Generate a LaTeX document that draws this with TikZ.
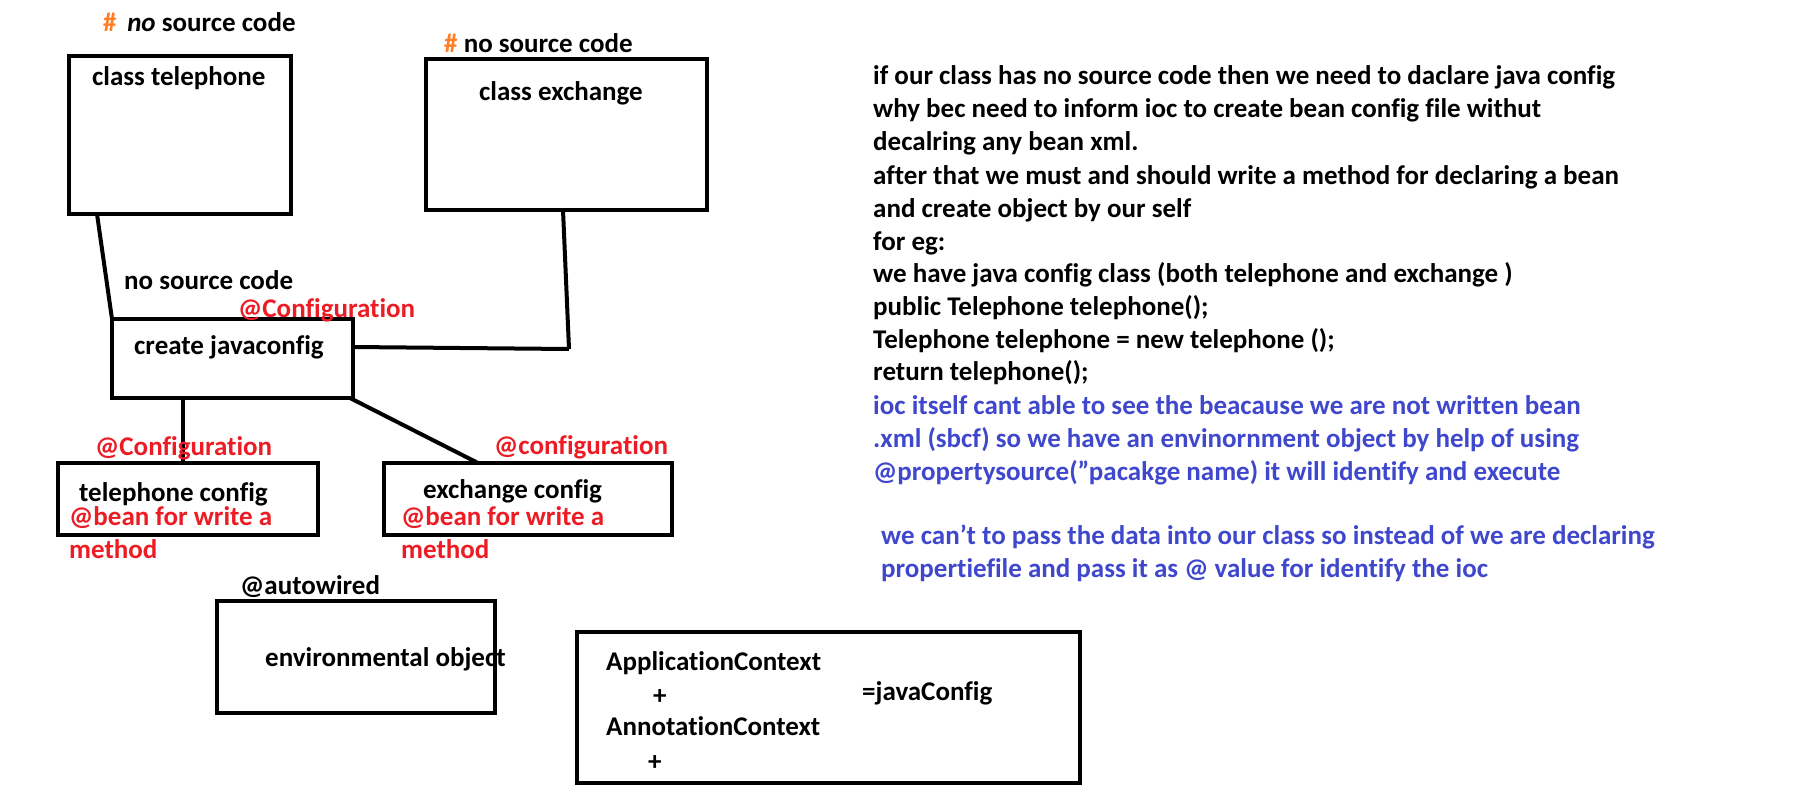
\documentclass[tikz,border=0pt]{standalone}
\usepackage{fontspec}
\defaultfontfeatures{}
\setmainfont{Carlito}[Ligatures=NoCommon]
\definecolor{pred}{RGB}{237,28,36}
\definecolor{porange}{RGB}{255,127,39}
\definecolor{pblue}{RGB}{63,72,204}
\begin{document}
\begin{tikzpicture}[x=1pt,y=-1pt,
  lbl/.style={anchor=west,inner sep=0pt,text height=19pt,text depth=5pt,font=\bfseries\fontsize{27}{30}\selectfont},
  rl/.style={lbl,text=pred},
  bl/.style={lbl,text=pblue},
  boxs/.style={draw=black,line width=4pt},
  conn/.style={draw=black,line width=4pt}]
\useasboundingbox[fill=white] (0,0) rectangle (1811,806);
% boxes
\draw[boxs] (69,56) rectangle (291,214);
\node[inner sep=0,minimum width=222pt,minimum height=158pt] (tel) at (180,135) {};
\draw[boxs] (426,59) rectangle (707,210);
\node[inner sep=0,minimum width=281pt,minimum height=151pt] (exc) at (566.5,134.5) {};
\draw[boxs] (112,319) rectangle (353,398);
\node[inner sep=0,minimum width=241pt,minimum height=79pt] (jc) at (232.5,358.5) {};
\draw[boxs] (58,463) rectangle (318,535);
\node[inner sep=0,minimum width=260pt,minimum height=72pt] (tc) at (188,499) {};
\draw[boxs] (384,463) rectangle (672,535);
\node[inner sep=0,minimum width=288pt,minimum height=72pt] (ec) at (528,499) {};
\draw[boxs] (217,601) rectangle (495,713);
\node[inner sep=0,minimum width=278pt,minimum height=112pt] (env) at (356,657) {};
\draw[boxs] (577,632) rectangle (1080,783);
\node[inner sep=0,minimum width=503pt,minimum height=151pt] (ac) at (828.5,707.5) {};
% connectors
\coordinate (jn) at (569,349);
\draw[conn] (97,214) -- (112,319);
\draw[conn] (563,210) -- (jn);
\draw[conn] (353,347) -- (jn);
\draw[conn] (183,398) -- (183,463);
\draw[conn] (350,398) -- (478,463);
% labels left
\node[lbl] (h1) at (103,24) {\textcolor{porange}{\#}\, \textit{no} source code};
\node[lbl] (h2) at (444,45) {\textcolor{porange}{\#} no source code};
\node[lbl] (ct) at (92,78) {class telephone};
\node[lbl] (ce) at (479,93) {class exchange};
\node[lbl] (nsc) at (124,282) {no source code};
\node[rl] (cf1) at (238,310) {@Configuration};
\node[lbl] (cj) at (134,347) {create javaconfig};
\node[rl] (cf2) at (95,448) {@Configuration};
\node[lbl] (tcl) at (79,494) {telephone config};
\node[rl] (b1) at (69,518) {@bean for write a};
\node[rl] (m1) at (69,551) {method};
\node[rl] (cf3) at (494,447) {@configuration};
\node[lbl] (ecl) at (423,491) {exchange config};
\node[rl] (b2) at (401,518) {@bean for write a};
\node[rl] (m2) at (401,551) {method};
\node[lbl] (aw) at (240,587) {@autowired};
\node[lbl] (eo) at (265,659) {environmental object};
\node[lbl] (a1) at (606,663) {ApplicationContext};
\node[lbl] (p1) at (653,697) {+};
\node[lbl] (a2) at (606,728) {AnnotationContext};
\node[lbl] (p2) at (648,763) {+};
\node[lbl] (jcf) at (862,693) {=javaConfig};
% right text
\node[lbl] (t1) at (873,77) {if our class has no source code then we need to daclare java config};
\node[lbl] (t2) at (873,110) {why bec need to inform ioc to create bean config file withut};
\node[lbl] (t3) at (873,143) {decalring any bean xml.};
\node[lbl] (t4) at (873,177) {after that we must and should write a method for declaring a bean};
\node[lbl] (t5) at (873,210) {and create object by our self};
\node[lbl] (t6) at (873,243) {for eg:};
\node[lbl] (t7) at (873,275) {we have java config class (both telephone and exchange )};
\node[lbl] (t8) at (873,308) {public Telephone telephone();};
\node[lbl] (t9) at (873,341) {Telephone telephone = new telephone ();};
\node[lbl] (t10) at (873,373) {return telephone();};
\node[bl] (t11) at (873,407) {ioc itself cant able to see the beacause we are not written bean};
\node[bl] (t12) at (873,440) {.xml (sbcf) so we have an envinornment object by help of using};
\node[bl] (t13) at (873,473) {@propertysource(\char"22 pacakge name) it will identify and execute};
\node[bl] (t14) at (881,537) {we can\char"27 t to pass the data into our class so instead of we are declaring};
\node[bl] (t15) at (881,570) {propertiefile and pass it as @ value for identify the ioc};
\end{tikzpicture}
\end{document}
